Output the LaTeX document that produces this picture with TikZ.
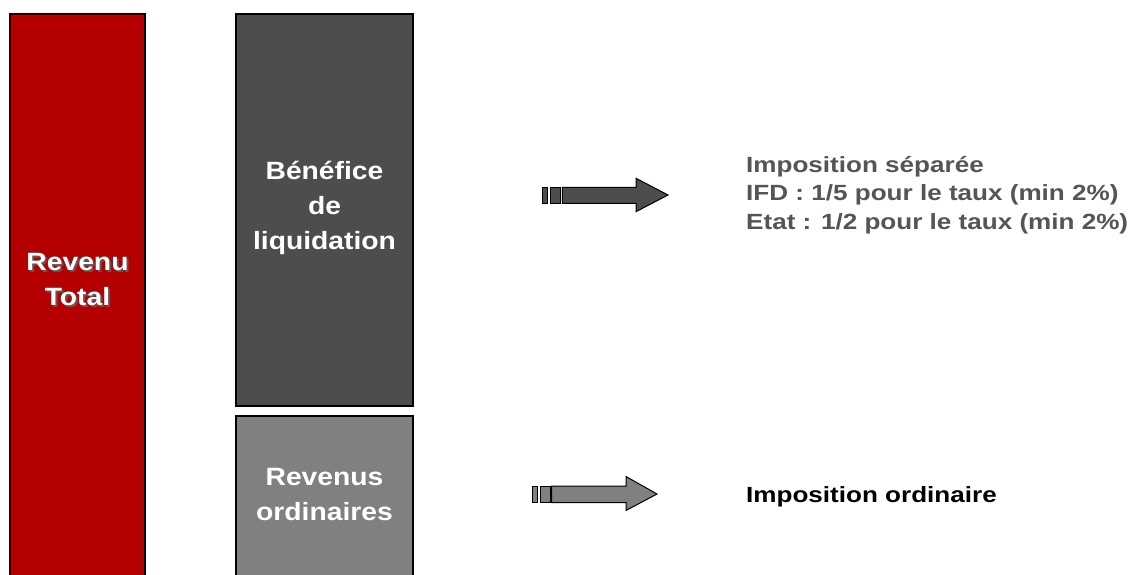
\documentclass[tikz,border=0pt]{standalone}
\usepackage{fontspec}
\setmainfont{Liberation Sans}
\newfontfamily\boxfont[FakeStretch=1.13]{Liberation Sans}
\newfontfamily\notefont[FakeStretch=1.185]{Liberation Sans}
\definecolor{rouge}{HTML}{B40000}
\definecolor{fonce}{HTML}{4D4D4D}
\definecolor{moyen}{HTML}{808080}
\definecolor{notegris}{HTML}{555555}
\tikzset{
  colbox/.style={draw=black, line width=2pt},
  boxtext/.style={text=white, font=\boxfont\bfseries\fontsize{25}{35}\selectfont, align=center, inner sep=0pt},
  shadowtext/.style={boxtext, text=black!65},
  note/.style={font=\notefont\bfseries\fontsize{22}{28.5}\selectfont, align=left, anchor=north west, inner sep=0pt},
  arr/.style={draw=black, line width=1pt, line join=miter},
}
\begin{document}
\begin{tikzpicture}[x=1pt, y=-1pt]
\useasboundingbox (0,0) rectangle (1135,575);
\fill[white] (0,0) rectangle (1135,575);
\begin{scope}
\clip (0,0) rectangle (1135,575);
% columns
\draw[colbox, fill=rouge] (10,590) -- (10,14) -- (145,14) -- (145,590);
\draw[colbox, fill=fonce] (236,14) rectangle (413,406);
\draw[colbox, fill=moyen] (236,590) -- (236,416) -- (413,416) -- (413,590);
\end{scope}
% texts in columns
\node[shadowtext] (totalshadow) at (79.5,281.5) {Revenu\\Total};
\node[boxtext] (total) at (77.5,280) {Revenu\\Total};
\node[boxtext] (benefice) at (324.5,208) {Bénéfice\\de\\liquidation};
\node[boxtext] (ordinaires) at (324.5,495) {Revenus\\ordinaires};
% arrow 1
\draw[arr, fill=fonce] (542.7,187.3) rectangle (547,203.3);
\draw[arr, fill=fonce] (550.7,187.3) rectangle (560,203.3);
\draw[arr, fill=fonce] (562.3,187.3) -- (636,187.3) -- (636,178.3) -- (668,195) -- (636,211.7) -- (636,203.3) -- (562.3,203.3) -- cycle;
% arrow 2
\draw[arr, fill=moyen] (532.7,486) rectangle (537,502.7);
\draw[arr, fill=moyen] (540.7,486) rectangle (550,502.7);
\draw[arr, fill=moyen] (551.7,486) -- (626,486) -- (626,476.5) -- (657,494) -- (626,510.5) -- (626,502.7) -- (551.7,502.7) -- cycle;
% notes
\node[note, text=notegris] (separee) at (746,156) {Imposition séparée\\IFD : 1/5 pour le taux (min 2\%)\\Etat : 1/2 pour le taux (min 2\%)};
\node[note, text=black] (ordinaire) at (746,486) {Imposition ordinaire};
\end{tikzpicture}
\end{document}
